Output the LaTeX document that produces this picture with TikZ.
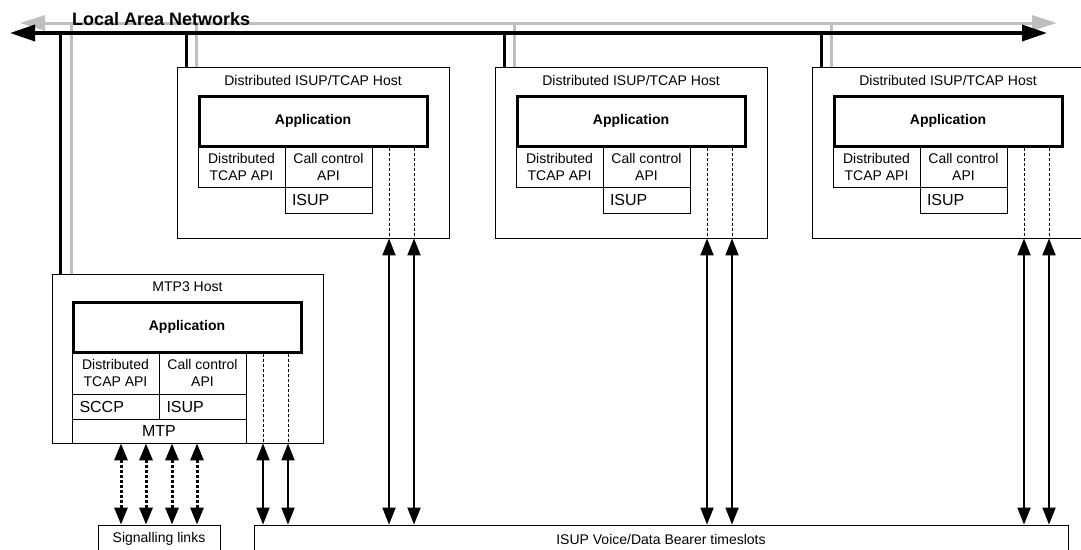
\documentclass[tikz,border=0pt]{standalone}
\usepackage{fontspec}
\setmainfont{Liberation Sans}
\usepackage{xcolor}
\usepackage{tikz}
\usetikzlibrary{arrows.meta}

\definecolor{langray}{gray}{0.75}

\tikzset{
    hostbox/.style={draw, line width=0.8pt, minimum width=272pt, minimum height=171pt, inner sep=0pt},
    appbox/.style={draw, line width=3pt, minimum width=228pt, minimum height=50pt, inner sep=0pt, font=\fontsize{14}{17}\selectfont\bfseries},
    layerbox/.style={draw, line width=0.8pt, minimum width=87pt, inner sep=0pt, align=center},
    protobox/.style={layerbox, font=\fontsize{16}{18}\selectfont},
    hosttitle/.style={inner sep=0pt},
    bearerarrow/.style={line width=1.8pt, {Triangle[length=17pt,width=13pt]}-{Triangle[length=17pt,width=13pt]}},
    linkarrow/.style={line width=3pt, dash pattern=on 3pt off 2pt, {Triangle[length=17pt,width=13pt]}-{Triangle[length=17pt,width=13pt]}},
    innerdash/.style={line width=0.9pt, dash pattern=on 3pt off 2pt},
    lanblack/.style={line width=3.5pt},
    langrey/.style={line width=3pt, draw=langray}
}

\begin{document}
\begin{tikzpicture}[x=1pt, y=-1pt, font=\fontsize{14}{17}\selectfont]
        \clip (0,0) rectangle (1081,549);

        % Local area networks
        \coordinate (lanGW) at (20,23);
        \coordinate (lanGE) at (1057,23);
        \coordinate (lanW) at (10,33);
        \coordinate (lanE) at (1047,33);

        % MTP3 host
        \node[hostbox, minimum width=271pt, minimum height=169pt] (mtphost) at (187.5,358.5) {};
        \node[hosttitle] (mtptitle) at (187.5,287) {MTP3 Host};
        \node[appbox] (mtpapp) at (187,327) {Application};
        \node[layerbox, minimum height=42pt] (mtptcap) at (115.5,373) {Distributed\\TCAP API};
        \node[layerbox, minimum height=42pt] (mtpcall) at (202.5,373) {Call control\\API};
        \node[protobox, minimum height=25pt, text width=72pt, align=left] (mtpsccp) at (115.5,406.5) {SCCP};
        \node[protobox, minimum height=25pt, text width=72pt, align=left] (mtpisup) at (202.5,406.5) {ISUP};
        \node[protobox, minimum width=174pt, minimum height=24pt] (mtpmtp) at (159,431) {MTP};
        \coordinate (mtpda) at (263,0);
        \coordinate (mtpdb) at (288,0);

        % Distributed ISUP/TCAP host 1
        \node[hostbox] (hostA) at (313,152.5) {};
        \node[hosttitle] (titleA) at (313,80) {Distributed ISUP/TCAP Host};
        \node[appbox] (appA) at (313,121) {Application};
        \node[layerbox, minimum height=40pt] (tcapA) at (241.5,167) {Distributed\\TCAP API};
        \node[layerbox, minimum height=40pt] (callA) at (328.5,167) {Call control\\API};
        \node[protobox, minimum height=26pt, text width=73pt, align=left] (isupA) at (328.5,200) {ISUP};
        \coordinate (daA) at (389,0);
        \coordinate (dbA) at (414,0);

        % Distributed ISUP/TCAP host 2
        \node[hostbox] (hostB) at (631,152.5) {};
        \node[hosttitle] (titleB) at (631,80) {Distributed ISUP/TCAP Host};
        \node[appbox] (appB) at (631,121) {Application};
        \node[layerbox, minimum height=40pt] (tcapB) at (559.5,167) {Distributed\\TCAP API};
        \node[layerbox, minimum height=40pt] (callB) at (646.5,167) {Call control\\API};
        \node[protobox, minimum height=26pt, text width=73pt, align=left] (isupB) at (646.5,200) {ISUP};
        \coordinate (daB) at (707,0);
        \coordinate (dbB) at (732,0);

        % Distributed ISUP/TCAP host 3
        \node[hostbox] (hostC) at (948,152.5) {};
        \node[hosttitle] (titleC) at (948,80) {Distributed ISUP/TCAP Host};
        \node[appbox] (appC) at (948,121) {Application};
        \node[layerbox, minimum height=40pt] (tcapC) at (876.5,167) {Distributed\\TCAP API};
        \node[layerbox, minimum height=40pt] (callC) at (963.5,167) {Call control\\API};
        \node[protobox, minimum height=26pt, text width=73pt, align=left] (isupC) at (963.5,200) {ISUP};
        \coordinate (daC) at (1024,0);
        \coordinate (dbC) at (1049,0);

        % Bottom boxes
        \node[draw, line width=0.8pt, minimum width=122pt, minimum height=28pt] (siglinks) at (159,539) {Signalling links};
        \node[draw, line width=0.8pt, minimum width=814pt, minimum height=28pt] (bearer) at (661,539) {ISUP Voice/Data Bearer timeslots};

        % LAN bus and drops (grey behind black)
        \draw[langrey, {Triangle[length=25pt,width=15pt]}-{Triangle[length=25pt,width=15pt]}] (lanGW) -- (lanGE);
        \draw[langrey] ([xshift=20pt]mtphost.north west) -- ([xshift=20pt]mtphost.north west |- lanGW);
        \draw[langrey] ([xshift=20pt]hostA.north west) -- ([xshift=20pt]hostA.north west |- lanGW);
        \draw[langrey] ([xshift=20pt]hostB.north west) -- ([xshift=20pt]hostB.north west |- lanGW);
        \draw[langrey] ([xshift=20pt]hostC.north west) -- ([xshift=20pt]hostC.north west |- lanGW);
        \draw[lanblack, {Triangle[length=25pt,width=16pt]}-{Triangle[length=25pt,width=16pt]}] (lanW) -- (lanE);
        \draw[lanblack] ([xshift=9pt]mtphost.north west) -- ([xshift=9pt]mtphost.north west |- lanW);
        \draw[lanblack] ([xshift=10pt]hostA.north west) -- ([xshift=10pt]hostA.north west |- lanW);
        \draw[lanblack] ([xshift=10pt]hostB.north west) -- ([xshift=10pt]hostB.north west |- lanW);
        \draw[lanblack] ([xshift=10pt]hostC.north west) -- ([xshift=10pt]hostC.north west |- lanW);
        \node[anchor=base west, inner sep=0pt, font=\fontsize{18}{20}\selectfont\bfseries] (lanlabel) at (72,25) {Local Area Networks};

        % Dashed paths inside hosts
        \draw[innerdash] (mtpapp.south -| mtpda) -- (mtphost.south -| mtpda);
        \draw[innerdash] (mtpapp.south -| mtpdb) -- (mtphost.south -| mtpdb);
        \draw[innerdash] (appA.south -| daA) -- (hostA.south -| daA);
        \draw[innerdash] (appA.south -| dbA) -- (hostA.south -| dbA);
        \draw[innerdash] (appB.south -| daB) -- (hostB.south -| daB);
        \draw[innerdash] (appB.south -| dbB) -- (hostB.south -| dbB);
        \draw[innerdash] (appC.south -| daC) -- (hostC.south -| daC);
        \draw[innerdash] (appC.south -| dbC) -- (hostC.south -| dbC);

        % Bearer arrows
        \draw[bearerarrow] (mtphost.south -| mtpda) -- (bearer.north -| mtpda);
        \draw[bearerarrow] (mtphost.south -| mtpdb) -- (bearer.north -| mtpdb);
        \draw[bearerarrow] (hostA.south -| daA) -- (bearer.north -| daA);
        \draw[bearerarrow] (hostA.south -| dbA) -- (bearer.north -| dbA);
        \draw[bearerarrow] (hostB.south -| daB) -- (bearer.north -| daB);
        \draw[bearerarrow] (hostB.south -| dbB) -- (bearer.north -| dbB);
        \draw[bearerarrow] (hostC.south -| daC) -- (bearer.north -| daC);
        \draw[bearerarrow] (hostC.south -| dbC) -- (bearer.north -| dbC);

        % Signalling link arrows
        \draw[linkarrow] ([xshift=-38pt]mtpmtp.south) -- ([xshift=-38pt]siglinks.north);
        \draw[linkarrow] ([xshift=-13pt]mtpmtp.south) -- ([xshift=-13pt]siglinks.north);
        \draw[linkarrow] ([xshift=13pt]mtpmtp.south) -- ([xshift=13pt]siglinks.north);
        \draw[linkarrow] ([xshift=38pt]mtpmtp.south) -- ([xshift=38pt]siglinks.north);
    \end{tikzpicture}
\end{document}
